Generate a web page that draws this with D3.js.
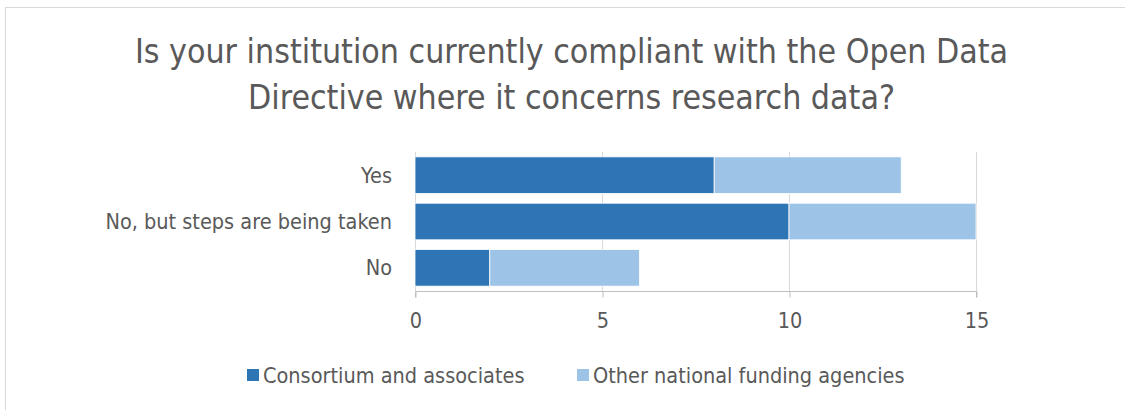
<!DOCTYPE html>
<html>
<head>
<meta charset="utf-8">
<script src="https://cdn.jsdelivr.net/npm/d3@7"></script>
<style>
  html, body { margin: 0; padding: 0; background: #fff; }
  svg { display: block; }
  text { font-family: "DejaVu Sans Condensed", "Noto Sans", sans-serif; fill: #595959; }
</style>
</head>
<body>
<svg id="chart" width="1125" height="410"></svg>
<script>
// Survey responses, stacked by respondent group
const categories = ["Yes", "No, but steps are being taken", "No"];
const consortium = [8, 10, 2];
const otherAgencies = [5, 5, 4];
const seriesNames = ["Consortium and associates", "Other national funding agencies"];
const xTicks = [0, 5, 10, 15];
const titleLines = [
  "Is your institution currently compliant with the Open Data",
  "Directive where it concerns research data?"
];

const colors = ["#2E75B6", "#9DC3E6"];
const svg = d3.select("#chart");

// outer chart frame
svg.append("rect")
  .attr("x", 5.5).attr("y", 7.5)
  .attr("width", 1135).attr("height", 420)
  .attr("fill", "#fff").attr("stroke", "#d9d9d9").attr("stroke-width", 1);

// title
const cx = 571.5;
svg.append("g").selectAll("text").data(titleLines).join("text")
  .attr("x", cx).attr("y", (d, i) => 63 + i * 46)
  .attr("text-anchor", "middle")
  .style("font-size", "33.6px")
  .text(d => d);

const plot = { left: 415, right: 976, top: 152, bottom: 291 };

const x = d3.scaleLinear().domain([0, 15]).range([plot.left, plot.right]);
const y = d3.scaleBand().domain(categories).range([plot.top, plot.bottom])
  .paddingInner(0.21).paddingOuter(0.105);

// vertical gridlines
svg.append("g").selectAll("line").data(xTicks).join("line")
  .attr("x1", d => x(d) + 0.5).attr("x2", d => x(d) + 0.5)
  .attr("y1", plot.top).attr("y2", plot.bottom)
  .attr("stroke", "#d9d9d9").attr("stroke-width", 1);

// stacked bars
const rows = categories.map((c, i) => ({ cat: c, a: consortium[i], b: otherAgencies[i] }));
const stack = d3.stack().keys(["a", "b"])(rows);
svg.append("g").selectAll("g").data(stack).join("g")
  .attr("fill", (d, i) => colors[i])
  .selectAll("rect").data(d => d).join("rect")
  .attr("x", d => x(d[0]))
  .attr("width", d => x(d[1]) - x(d[0]))
  .attr("y", d => y(d.data.cat))
  .attr("height", y.bandwidth())
  .attr("stroke", "#fff").attr("stroke-width", 0.8);

// x axis along the bottom
const xAxis = svg.append("g")
  .attr("transform", `translate(0.5,${plot.bottom + 0.5})`)
  .call(d3.axisBottom(x).tickValues(xTicks).tickSize(6).tickPadding(15));
xAxis.select(".domain").attr("stroke", "#bfbfbf").attr("d", `M${plot.left},6V0H${plot.right}V6`);
xAxis.selectAll(".tick line").attr("stroke", "#bfbfbf");
xAxis.selectAll(".tick text")
  .style("font-size", "21.5px").attr("fill", "#595959")
  .style("font-family", null);

// category labels
svg.append("g").selectAll("text").data(categories).join("text")
  .attr("x", plot.left - 23)
  .attr("y", d => y(d) + y.bandwidth() / 2)
  .attr("dy", "0.35em")
  .attr("text-anchor", "end")
  .style("font-size", "21.5px")
  .text(d => d);

// legend
const legend = svg.append("g");
const legendX = [247, 577];
seriesNames.forEach((name, i) => {
  legend.append("rect")
    .attr("x", legendX[i]).attr("y", 369)
    .attr("width", 12).attr("height", 12)
    .attr("fill", colors[i]);
  legend.append("text")
    .attr("x", legendX[i] + 16).attr("y", 375)
    .attr("dy", "0.35em")
    .style("font-size", "21.5px")
    .text(name);
});
</script>
</body>
</html>
